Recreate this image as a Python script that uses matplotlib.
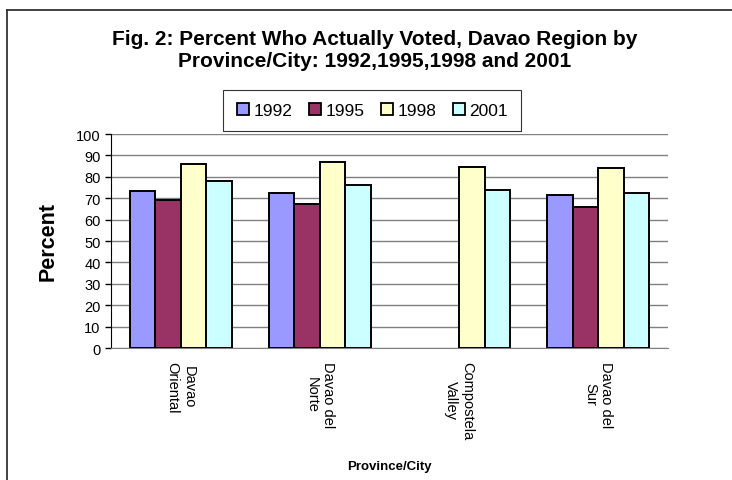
import matplotlib.pyplot as plt
import numpy as np
from matplotlib.lines import Line2D

# --- Data ---
provinces = ["Davao\nOriental", "Davao del\nNorte", "Compostela\nValley", "Davao del\nSur"]
years = ["1992", "1995", "1998", "2001"]
v1992 = [73.3, 72.5, np.nan, 71.4]
v1995 = [69.2, 67.3, np.nan, 66.1]
v1998 = [85.9, 86.8, 84.5, 84.1]
v2001 = [77.9, 76.3, 73.9, 72.5]
series = [v1992, v1995, v1998, v2001]
colors = ["#9999FF", "#993366", "#FFFFCC", "#CCFFFF"]

plt.rcParams['font.family'] = ['Liberation Sans', 'DejaVu Sans']

# --- Plot ---
fig = plt.figure(figsize=(7.32, 4.81), dpi=100)
ax = fig.add_axes([0.1516, 0.2744, 0.761, 0.4449])

x = np.arange(len(provinces))
w = 0.183
for i, (vals, c, yr) in enumerate(zip(series, colors, years)):
    ax.bar(x + (i - 1.5) * w, vals, width=w, color=c, edgecolor="black",
           linewidth=1.4, label=yr, zorder=3)

ax.set_xlim(-0.5, len(provinces) - 0.5)
ax.set_ylim(0, 100)
ax.set_yticks(np.arange(0, 101, 10))
ax.yaxis.grid(True, color="#808080", linewidth=1.0, zorder=0)
ax.set_axisbelow(True)

ax.set_xticks(x)
ax.set_xticklabels(provinces, rotation=-90, ha="center", va="top",
                   multialignment="center", fontsize=10.5)
ax.tick_params(axis="x", length=0, pad=9)
ax.tick_params(axis="y", length=4, width=1, labelsize=10.5, direction="out")

for s in ["top", "right"]:
    ax.spines[s].set_visible(False)
ax.spines["left"].set_color("black")
ax.spines["bottom"].set_color("#808080")

# Tieu de va nhan
fig.text(0.512, 0.895, "Fig. 2: Percent Who Actually Voted, Davao Region by\nProvince/City: 1992,1995,1998 and 2001",
         ha="center", va="center", fontsize=15, fontweight="bold", linespacing=1.2)
fig.text(0.0656, 0.497, "Percent", rotation=90, ha="center", va="center",
         fontsize=15.5, fontweight="bold")
fig.text(0.532, 0.03, "Province/City", ha="center", va="center",
         fontsize=9.5, fontweight="bold")

# Chu giai
handles = [Line2D([], [], marker="s", linestyle="none", markersize=8.5,
                  markerfacecolor=c, markeredgecolor="black", markeredgewidth=1.3)
           for c in colors]
leg = fig.legend(handles, years, loc="center", bbox_to_anchor=(0.508, 0.768),
                 ncol=4, frameon=True, fancybox=False, edgecolor="black",
                 fontsize=12.5, handlelength=0.8, handletextpad=0.2,
                 columnspacing=0.9, borderpad=0.75, borderaxespad=0)
leg.get_frame().set_linewidth(0.8)

# Khung ngoai
fig.add_artist(Line2D([7 / 732, 7 / 732], [0, 1 - 11 / 481], color="#333333", linewidth=1.3))
fig.add_artist(Line2D([7 / 732, 1], [1 - 11 / 481, 1 - 11 / 481], color="#333333", linewidth=1.3))

# --- Render ---
plt.savefig("out.png", dpi=100)
plt.close()
